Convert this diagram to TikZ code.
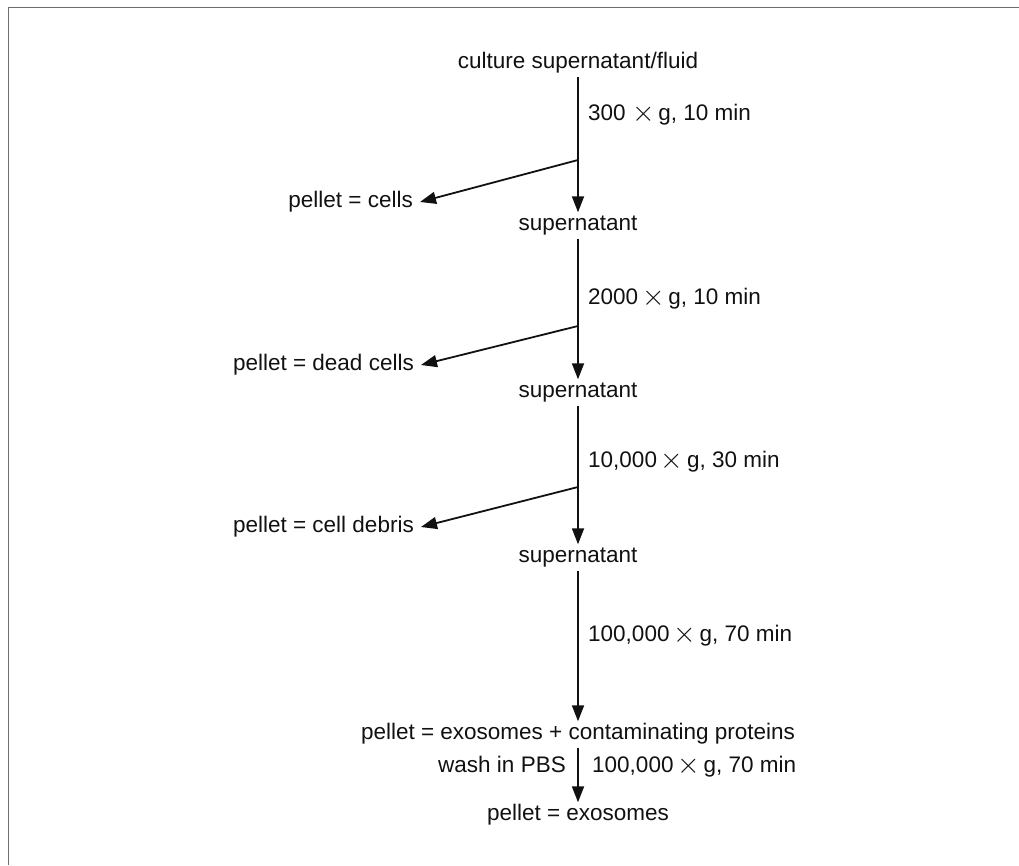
\documentclass[tikz,border=0pt]{standalone}
\usepackage{fontspec}
\setmainfont{Liberation Sans}
\usepackage{xcolor}
\usepackage{tikz}
\definecolor{flowInk}{HTML}{111111}
\definecolor{frameGrey}{HTML}{6E6E6E}
\usetikzlibrary{arrows.meta,positioning}
\newcommand{\spinx}{\raisebox{-0.5pt}{\scalebox{1.4}{$\times$}}}

\begin{document}
\begin{tikzpicture}[
  x=1pt, y=-1pt,
  font=\fontsize{22.5}{27}\selectfont,
  sample/.style={inner sep=0pt, text height=16pt, text depth=5pt, text=flowInk},
  pellet/.style={sample, anchor=east, inner xsep=7pt},
  cond/.style={sample, anchor=west},
  flow/.style={line width=1.8pt, draw=flowInk, -{Triangle[length=16pt,width=12pt]}, shorten <=3pt, shorten >=2pt},
  spill/.style={flow, shorten <=0pt, shorten >=0pt},
  frame/.style={line width=1.4pt, draw=frameGrey}
]
\useasboundingbox (0,0) rectangle (1019,865);

% Frame
\draw[frame] (8.5,865) -- (8.5,7.5) -- (1019,7.5);

% Fractions down the column
\node[sample] (culture) at (578,63) {culture supernatant/fluid};
\node[sample] (supA) at (578,225) {supernatant};
\node[sample] (supB) at (578,392) {supernatant};
\node[sample] (supC) at (578,557) {supernatant};
\node[sample] (exoMix) at (578,734) {pellet = exosomes + contaminating proteins};
\node[sample] (exoPure) at (578,815) {pellet = exosomes};

% Discarded pellets
\node[pellet] (pelletA) at (420,202) {pellet = cells};
\node[pellet] (pelletB) at (421,365) {pellet = dead cells};
\node[pellet] (pelletC) at (421,527) {pellet = cell debris};

% Branch points on the column
\coordinate (splitA) at (578,160);
\coordinate (splitB) at (578,326);
\coordinate (splitC) at (578,487);

% Spin steps
\draw[flow] (culture) -- (supA);
\draw[flow] (supA) -- (supB);
\draw[flow] (supB) -- (supC);
\draw[flow] (supC) -- (exoMix);
\draw[flow] (exoMix) -- (exoPure);
\draw[spill] (splitA) -- (pelletA.east);
\draw[spill] (splitB) -- (pelletB.east);
\draw[spill] (splitC) -- (pelletC.east);

% Conditions
\node[cond] (spinA) at (588,115) {300 \spinx\,g, 10 min};
\node[cond] (spinB) at (588,299) {2000\,\spinx\,g, 10 min};
\node[cond] (spinC) at (588,462) {10,000\,\spinx\,g, 30 min};
\node[cond] (spinD) at (588,636) {100,000\,\spinx\,g, 70 min};
\node[cond] (spinE) at (592,767) {100,000\,\spinx\,g, 70 min};
\node[sample, anchor=east] (wash) at (566,767) {wash in PBS};

\end{tikzpicture}
\end{document}
